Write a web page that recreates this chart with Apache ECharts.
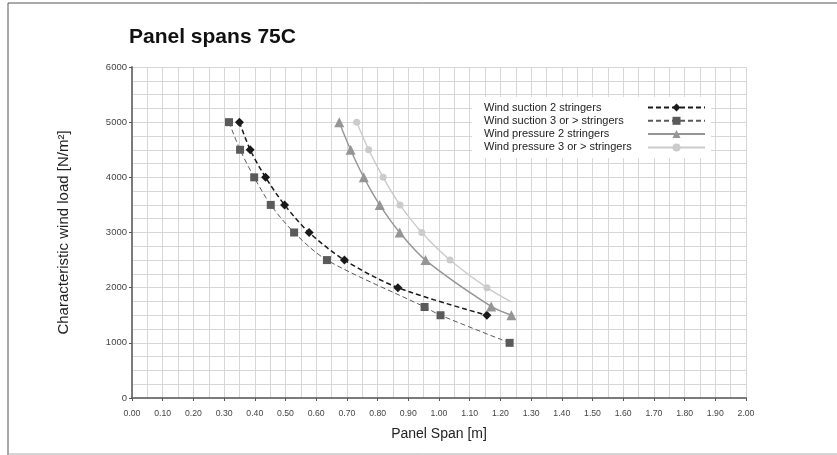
<!DOCTYPE html>
<html>
<head>
<meta charset="utf-8">
<script src="https://cdn.jsdelivr.net/npm/echarts@6/dist/echarts.min.js"></script>
<style>
  html, body { margin: 0; padding: 0; background: #fff; }
  #chart { width: 837px; height: 455px; }
</style>
</head>
<body>
<div id="chart"></div>
<script>
// values: [panel span m, wind load N/m2]
var suction2 = [[0.35, 5000], [0.385, 4500], [0.435, 4000], [0.497, 3500], [0.577, 3000], [0.692, 2500], [0.866, 2000], [1.156, 1500]]
var suction3 = [[0.316, 5000], [0.352, 4500], [0.398, 4000], [0.452, 3500], [0.528, 3000], [0.635, 2500], [0.953, 1650], [1.005, 1500], [1.23, 1000]]
var pressure2 = [[0.675, 5000], [0.712, 4500], [0.755, 4000], [0.807, 3500], [0.872, 3000], [0.956, 2500], [1.17, 1660], [1.236, 1500]]
var pressure3 = [[0.732, 5000], [0.771, 4500], [0.818, 4000], [0.873, 3500], [0.944, 3000], [1.036, 2500], [1.156, 2000]]
var pressure3End = [1.236, 1740]   // line runs on past the last marker
var seriesNames = ['Wind suction 2 stringers', 'Wind suction 3 or > stringers', 'Wind pressure 2 stringers', 'Wind pressure 3 or > stringers']

var font = '"Liberation Sans", Arial, sans-serif'

var chart = echarts.init(document.getElementById('chart'), null, { renderer: 'canvas' })

var p3data = pressure3.slice()
p3data.push({ value: pressure3End, symbol: 'none' })

chart.setOption({
  animation: false,
  backgroundColor: '#fff',
  textStyle: { fontFamily: font },
  title: {
    text: 'Panel spans 75C',
    left: 124,
    top: 22,
    textStyle: { fontFamily: font, fontWeight: 'bold', fontSize: 21, color: '#111' }
  },
  graphic: [
    { type: 'polyline', shape: { points: [[8, 455], [8, 3], [837, 3]] }, style: { stroke: '#555', lineWidth: 1, fill: null } },
    { type: 'line', shape: { x1: 8, y1: 454, x2: 837, y2: 454 }, style: { stroke: '#aaa', lineWidth: 1 } }
  ],
  legend: {
    data: seriesNames,
    orient: 'vertical',
    align: 'right',
    left: 472,
    top: 97,
    padding: [5, 5, 5, 12],
    backgroundColor: '#fff',
    itemGap: 2.3,
    itemWidth: 57,
    itemHeight: 10,
    formatter: function (name) { return '{t|' + name + '}' },
    textStyle: {
      fontFamily: font,
      fontSize: 11,
      color: '#222',
      rich: { t: { fontFamily: font, fontSize: 11, color: '#222', width: 159, align: 'left' } }
    }
  },
  grid: { left: 132, right: 91, top: 67, bottom: 57 },
  xAxis: [{
    type: 'value',
    min: 0,
    max: 2,
    interval: 0.1,
    name: 'Panel Span [m]',
    nameLocation: 'middle',
    nameGap: 29,
    nameTextStyle: { fontFamily: font, fontSize: 14, color: '#222' },
    axisLine: { lineStyle: { color: '#222', width: 1.5 } },
    axisTick: { show: true, length: 3, lineStyle: { color: '#555' } },
    axisLabel: { margin: 11, fontFamily: font, fontSize: 8.7, color: '#444', formatter: function (v) { return v.toFixed(2) } },
    splitLine: { lineStyle: { color: '#d6d6d6', width: 1 } },
    minorTick: { show: false, splitNumber: 2 },
    minorSplitLine: { show: true, lineStyle: { color: '#d6d6d6', width: 1 } }
  }, {
    type: 'value',
    position: 'top',
    min: 0,
    max: 2,
    axisLine: { show: true, lineStyle: { color: '#888', width: 1.5 } },
    axisTick: { show: false },
    axisLabel: { show: false },
    splitLine: { show: false }
  }],
  yAxis: [{
    type: 'value',
    min: 0,
    max: 6000,
    interval: 1000,
    name: 'Characteristic wind load [N/m²]',
    nameLocation: 'middle',
    nameGap: 61,
    nameTextStyle: { fontFamily: font, fontSize: 15, color: '#222' },
    axisLine: { show: true, lineStyle: { color: '#222', width: 1.5 } },
    axisTick: { show: true, length: 3, lineStyle: { color: '#555' } },
    axisLabel: { margin: 5, fontFamily: font, fontSize: 9.5, color: '#444', formatter: function (v) { return String(v) } },
    splitLine: { lineStyle: { color: '#d6d6d6', width: 1 } },
    minorTick: { show: false, splitNumber: 4 },
    minorSplitLine: { show: true, lineStyle: { color: '#d6d6d6', width: 1 } }
  }, {
    type: 'value',
    position: 'right',
    min: 0,
    max: 6000,
    axisLine: { show: true, lineStyle: { color: '#888', width: 1.5 } },
    axisTick: { show: false },
    axisLabel: { show: false },
    splitLine: { show: false }
  }],
  series: [
    {
      name: seriesNames[0],
      type: 'line',
      smooth: 0.3,
      data: suction2,
      symbol: 'diamond',
      symbolSize: 9,
      itemStyle: { color: '#1a1a1a' },
      lineStyle: { color: '#1a1a1a', width: 1.5, type: [5, 3] }
    },
    {
      name: seriesNames[1],
      type: 'line',
      smooth: 0.3,
      data: suction3,
      symbol: 'rect',
      symbolSize: 8,
      itemStyle: { color: '#5a5a5a' },
      lineStyle: { color: '#5a5a5a', width: 1, type: [5, 3] }
    },
    {
      name: seriesNames[2],
      type: 'line',
      smooth: 0.3,
      data: pressure2,
      symbol: 'triangle',
      symbolSize: 10,
      itemStyle: { color: '#959595' },
      lineStyle: { color: '#959595', width: 1.4 }
    },
    {
      name: seriesNames[3],
      type: 'line',
      smooth: 0.3,
      data: p3data,
      symbol: 'circle',
      symbolSize: 7,
      itemStyle: { color: '#cbcbcb' },
      lineStyle: { color: '#cbcbcb', width: 1.4 }
    }
  ]
})
</script>
</body>
</html>
